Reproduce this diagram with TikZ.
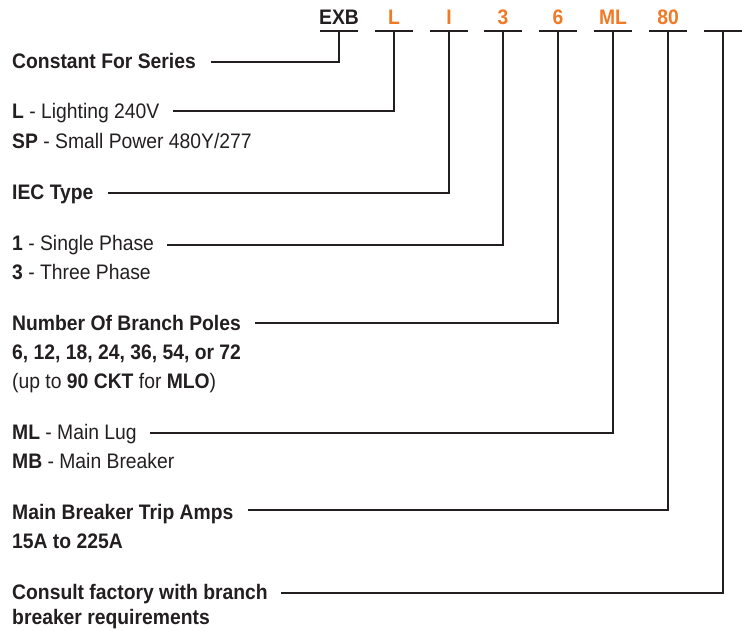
\documentclass[tikz,border=0pt]{standalone}
\usepackage{fontspec}
\setmainfont{Liberation Sans}[FakeStretch=0.92]
\usetikzlibrary{calc}
\definecolor{ink}{HTML}{231F20}
\definecolor{orng}{HTML}{F07A26}
\begin{document}
\begin{tikzpicture}[x=1pt,y=-1pt,
  txt/.style={anchor=base west, inner sep=0pt, text=ink, font=\fontsize{21}{24}\selectfont},
  code/.style={anchor=base, inner sep=0pt, font=\fontsize{21}{24}\selectfont\bfseries},
  wire/.style={draw=ink, line width=2pt, line cap=butt, line join=miter}]
\useasboundingbox (0,0) rectangle (742,630);
% header codes
\node[code, text=ink]  (cEXB) at (339,24) {EXB};
\node[code, text=orng] (cL)   at (394,24) {L};
\node[code, text=orng] (cI)   at (449,24) {I};
\node[code, text=orng] (c3)   at (503,24) {3};
\node[code, text=orng] (c6)   at (558,24) {6};
\node[code, text=orng] (cML)  at (613,24) {ML};
\node[code, text=orng] (c80)  at (668,24) {80};
% bar ends and T tops
\foreach \n/\x in {a/339,b/394,c/449,d/503,e/558,f/613,g/668,h/723}{
  \coordinate (\n w) at (\x-19,31);
  \coordinate (\n e) at (\x+19,31);
  \coordinate (\n t) at (\x,31);
  \draw[wire] (\n w) -- (\n e);
}
% labels
\node[txt] (l1) at (12,68.5) {\textbf{Constant For Series}};
\node[txt] (l2) at (12,118) {\textbf{L} - Lighting 240V};
\node[txt] (l2b) at (12,148) {\textbf{SP} - Small Power 480Y/277};
\node[txt] (l3) at (12,199.5) {\textbf{IEC Type}};
\node[txt] (l4) at (12,250) {\textbf{1} - Single Phase};
\node[txt] (l4b) at (12,279) {\textbf{3} - Three Phase};
\node[txt] (l5) at (12,330) {\textbf{Number Of Branch Poles}};
\node[txt] (l5b) at (12,359) {\textbf{6, 12, 18, 24, 36, 54, or 72}};
\node[txt] (l5c) at (12,388) {(up to \textbf{90 CKT} for \textbf{MLO})};
\node[txt] (l6) at (12,439.5) {\textbf{ML} - Main Lug};
\node[txt] (l6b) at (12,468.5) {\textbf{MB} - Main Breaker};
\node[txt] (l7) at (12,519) {\textbf{Main Breaker Trip Amps}};
\node[txt] (l7b) at (12,548) {\textbf{15A to 225A}};
\node[txt] (l8) at (12,599) {\textbf{Consult factory with branch}};
\node[txt] (l8b) at (12,624) {\textbf{breaker requirements}};
% connectors
\draw[wire] ($(l1.base east)+(15,-6.5)$) -| (at);
\draw[wire] ($(l2.base east)+(13,-7.5)$) -| (bt);
\draw[wire] ($(l3.base east)+(14,-7)$) -| (ct);
\draw[wire] ($(l4.base east)+(13,-5)$) -| (dt);
\draw[wire] ($(l5.base east)+(14,-7)$) -| (et);
\draw[wire] ($(l6.base east)+(13,-7)$) -| (ft);
\draw[wire] ($(l7.base east)+(14,-9.5)$) -| (gt);
\draw[wire] ($(l8.base east)+(13,-6.5)$) -| (ht);
\end{tikzpicture}
\end{document}
